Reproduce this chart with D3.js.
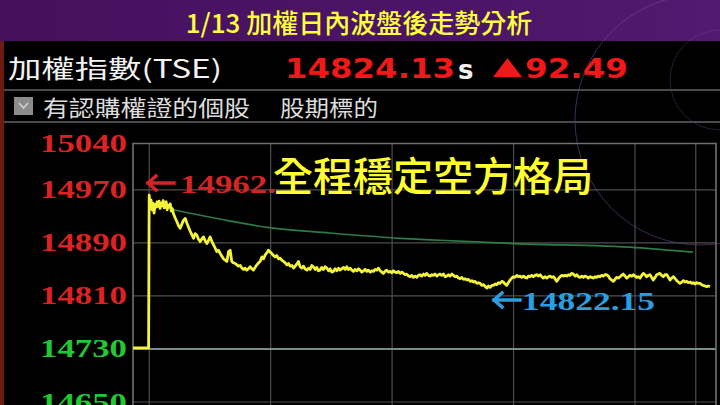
<!DOCTYPE html>
<html><head><meta charset="utf-8">
<script src="https://cdn.jsdelivr.net/npm/d3@7/dist/d3.min.js"></script>
<style>html,body{margin:0;padding:0;background:#000;overflow:hidden}svg{display:block}</style>
</head><body>
<script>
// ---------- data ----------
const title = "1/13 加權日內波盤後走勢分析";
const indexName = "加權指數(TSE)";
const lastPrice = "14824.13";
const changeText = "92.49";
const headline = "全程穩定空方格局";
const highValueText = "14962.";
const lowValueText = "14822.15";
const yTicks = [15040, 14970, 14890, 14810, 14730, 14650];
const prevClose = 14731.64;
const gridMinutes = [0, 60, 120, 180, 240, 270];
// [minutes after 9:00, index value]
const yellowPoints = [[-8,14731.6],[-0.3,14731.6],[0,14962],[0.4,14948],[0.9,14955],[1.4,14940],[1.9,14950],[2.4,14935],[2.9,14948],[3.4,14944],[3.9,14952],[4.4,14945],[4.9,14953],[5.4,14942],[5.9,14950],[6.4,14946],[6.9,14954],[7.4,14943],[7.9,14949],[8.4,14952],[8.9,14940],[9.4,14947],[9.9,14944],[10.4,14949],[10.9,14938],[11.4,14942],[12,14934],
[12.8,14928],[13.7,14922],[14.5,14916],[15.3,14912],[16.1,14918],[16.9,14924],[17.8,14927],[18.6,14920],[19.4,14914],[20.2,14908],[21.0,14903],[21.9,14897],[22.7,14904],[23.5,14902],[24.3,14896],[25.2,14892],[26.0,14896],[26.8,14899],[27.7,14893],[28.5,14889],[29.3,14894],[30.1,14899],[31.0,14892],[31.8,14887],[32.6,14882],[33.4,14877],[34.2,14879],[35.1,14874],[35.9,14870],[36.7,14866],[37.6,14864],[38.4,14862],[39.2,14877],[40.0,14879],[40.8,14862],[41.6,14860],[42.5,14859],[43.3,14857],[44.1,14855],[45.0,14856],[45.8,14852],[46.6,14850],[47.4,14852],[48.2,14849],[49.0,14851],[49.9,14854],[50.7,14851],[51.5,14849],[52.3,14853],[53.2,14857],[54.0,14860],[54.8,14862],[55.7,14869],[56.5,14866],[57.3,14872],[58.1,14875],[58.9,14879],[59.8,14876],[60.6,14874],[61.4,14871],[62.2,14869],[63.0,14871],[63.9,14866],[64.7,14867],[65.5,14864],[66.3,14862],[67.2,14860],[68.0,14857],[68.8,14859],[69.6,14855],[70.5,14856],[71.3,14852],[72.1,14855],[72.9,14858],[73.7,14862],[74.6,14854],[75.4,14852],[76.2,14855],[77.0,14851],[77.9,14849],[78.7,14852],[79.5,14850],[80.3,14856],[81.1,14854],[82.0,14850],[82.8,14853],[83.6,14848],[84.4,14849],[85.2,14853],[86.1,14850],[86.9,14854],[87.8,14852],[88.6,14848],[89.4,14851],[90.2,14846],[91.0,14847],[91.8,14851],[92.7,14848],[93.5,14852],[94.3,14849],[95.1,14851],[96.0,14853],[96.8,14850],[97.6,14854],[98.4,14850],[99.3,14852],[100.1,14849],[100.9,14847],[101.7,14850],[102.6,14848],[103.4,14851],[104.2,14849],[105.0,14846],[105.9,14848],[106.7,14850],[107.5,14847],[108.3,14849],[109.2,14846],[110.0,14848],[110.8,14847],[111.6,14850],[112.4,14849],[113.2,14852],[114.1,14848],[114.9,14846],[115.7,14844],[116.5,14847],[117.3,14849],[118.2,14846],[119.0,14847],[119.8,14845],[120.6,14848],[121.5,14846],[122.3,14845],[123.1,14847],[124.0,14844],[124.8,14846],[125.6,14844],[126.4,14842],[127.2,14843],[128.1,14840],[128.9,14839],[129.7,14841],[130.5,14838],[131.4,14840],[132.2,14838],[133.0,14841],[133.8,14842],[134.6,14840],[135.5,14843],[136.3,14841],[137.1,14844],[137.9,14841],[138.8,14840],[139.6,14842],[140.4,14841],[141.2,14843],[142.1,14840],[142.9,14842],[143.7,14843],[144.5,14841],[145.4,14843],[146.2,14839],[147.0,14840],[147.8,14842],[148.6,14840],[149.5,14843],[150.3,14841],[151.1,14839],[152.0,14840],[152.8,14837],[153.6,14836],[154.4,14838],[155.3,14835],[156.1,14836],[156.9,14834],[157.7,14835],[158.6,14832],[159.4,14833],[160.2,14831],[161.0,14832],[161.9,14829],[162.7,14830],[163.5,14829],[164.3,14826],[165.2,14827],[166.0,14824],[166.8,14822],[167.6,14825],[168.4,14823],[169.3,14826],[170.0,14826],[170.9,14828],[171.7,14827],[172.5,14830],[173.3,14829],[174.2,14832],[175.0,14831],[175.8,14828],[176.6,14826],[177.4,14830],[178.3,14834],[179.1,14837],[179.9,14839],[180.7,14838],[181.6,14841],[182.4,14839],[183.2,14840],[184.0,14838],[184.9,14840],[185.7,14838],[186.5,14837],[187.3,14840],[188.1,14839],[189.0,14841],[189.8,14839],[190.6,14841],[191.4,14842],[192.3,14840],[193.1,14842],[193.9,14839],[194.7,14837],[195.6,14839],[196.4,14837],[197.2,14839],[198.0,14840],[198.9,14838],[199.7,14839],[200.5,14836],[201.3,14832],[202.2,14836],[203.0,14839],[203.8,14841],[204.6,14840],[205.5,14841],[206.3,14840],[207.1,14842],[207.9,14841],[208.7,14844],[209.5,14843],[210.4,14840],[211.2,14842],[212.0,14839],[212.8,14838],[213.7,14840],[214.5,14838],[215.3,14840],[216.1,14839],[216.9,14837],[217.8,14839],[218.6,14838],[219.4,14837],[220.2,14839],[221.0,14838],[221.9,14840],[222.7,14839],[223.5,14841],[224.3,14840],[225.2,14842],[226.0,14842],[226.8,14840],[227.6,14836],[228.5,14834],[229.3,14832],[230.1,14835],[230.9,14838],[231.8,14837],[232.6,14839],[233.4,14841],[234.2,14843],[235.1,14840],[235.9,14837],[236.7,14839],[237.5,14841],[238.4,14840],[239.2,14842],[240.0,14840],[240.8,14838],[241.6,14839],[242.5,14837],[243.3,14841],[244.1,14844],[244.9,14842],[245.8,14839],[246.6,14841],[247.4,14842],[248.2,14838],[249.0,14834],[249.9,14838],[250.7,14842],[251.5,14843],[252.3,14844],[253.1,14841],[254.0,14839],[254.8,14842],[255.7,14842],[256.5,14838],[257.3,14834],[258.1,14837],[259.0,14839],[259.8,14836],[260.6,14833],[261.4,14831],[262.2,14829],[263.1,14831],[263.9,14833],[264.7,14831],[265.5,14832],[266.3,14830],[267.2,14831],[268.0,14829],[268.8,14830],[269.6,14828],[270.5,14830],[271.3,14829],[272.1,14829],[272.9,14827],[273.7,14826],[274.6,14825],[275.4,14824],[276.2,14825],[277.0,14824]];
const greenTime = [12, 40, 59.4, 89, 124, 143.7, 180.7, 240.5, 268.6];
const greenValue = [14940, 14923, 14913, 14905, 14897, 14894, 14889, 14883, 14876];

// ---------- layout ----------
const W = 720, H = 405;
const svg = d3.select("body").append("svg").attr("width", W).attr("height", H);
const defs = svg.append("defs");
const grad = defs.append("linearGradient").attr("id","hdr").attr("x1","0").attr("x2","1");
grad.append("stop").attr("offset","0").attr("stop-color","#47105e");
grad.append("stop").attr("offset","0.6").attr("stop-color","#4c1466");
grad.append("stop").attr("offset","1").attr("stop-color","#521a70");

svg.append("rect").attr("width",W).attr("height",H).attr("fill","#000");
svg.append("rect").attr("width",W).attr("height",41).attr("fill","url(#hdr)");
const deco = svg.append("g").attr("fill","none").attr("stroke","#7a4a9a").attr("stroke-opacity",0.55);
deco.append("circle").attr("cx",700).attr("cy",120).attr("r",125);
deco.append("circle").attr("cx",720).attr("cy",80).attr("r",50).attr("stroke-opacity",0.35);
svg.append("text").attr("x",359).attr("y",21).attr("text-anchor","middle").attr("dominant-baseline","central")
  .attr("font-family","'Noto Sans CJK TC','Noto Sans CJK SC',sans-serif").attr("font-size",26).attr("font-weight",500)
  .attr("fill","#ffff3c").text(title);

svg.append("rect").attr("x",0).attr("y",41).attr("width",4).attr("height",H-41).attr("fill","#6e1a12");

// info row
svg.append("text").attr("x",8).attr("y",67).attr("dominant-baseline","central")
  .attr("font-family","'Noto Sans CJK TC',sans-serif").attr("font-size",25).attr("fill","#f2f2f2")
  .attr("textLength",214).attr("lengthAdjust","spacingAndGlyphs").text(indexName);
svg.append("text").attr("x",285).attr("y",68).attr("dominant-baseline","central")
  .attr("font-family","'DejaVu Sans',sans-serif").attr("font-weight","bold").attr("font-size",27).attr("fill","#f01818")
  .attr("textLength",170).attr("lengthAdjust","spacingAndGlyphs").text(lastPrice);
svg.append("text").attr("x",458).attr("y",70).attr("dominant-baseline","central")
  .attr("font-family","'DejaVu Sans',sans-serif").attr("font-weight","bold").attr("font-size",26).attr("fill","#f0f0f0").text("s");
svg.append("path").attr("d","M493,77 L507.5,58 L522,77 Z").attr("fill","#f01818");
svg.append("text").attr("x",525).attr("y",68).attr("dominant-baseline","central")
  .attr("font-family","'DejaVu Sans',sans-serif").attr("font-weight","bold").attr("font-size",27).attr("fill","#f01818")
  .attr("textLength",103).attr("lengthAdjust","spacingAndGlyphs").text(changeText);

// second row
svg.append("line").attr("x1",4).attr("x2",W).attr("y1",90).attr("y2",90).attr("stroke","#4a4a4a").attr("stroke-width",2);
svg.append("line").attr("x1",4).attr("x2",W).attr("y1",122).attr("y2",122).attr("stroke","#4a4a4a").attr("stroke-width",2);
svg.append("rect").attr("x",14).attr("y",97).attr("width",19).attr("height",18).attr("fill","#8c8c8c");
svg.append("path").attr("d","M19,103 L23.5,108 L28,103").attr("fill","none").attr("stroke","#d0d0d0").attr("stroke-width",1.6);
svg.append("text").attr("x",43).attr("y",106).attr("dominant-baseline","central")
  .attr("font-family","'Noto Sans CJK TC',sans-serif").attr("font-size",22).attr("fill","#dcdcdc")
  .attr("textLength",207).attr("lengthAdjust","spacingAndGlyphs").text("有認購權證的個股");
svg.append("text").attr("x",280).attr("y",106).attr("dominant-baseline","central")
  .attr("font-family","'Noto Sans CJK TC',sans-serif").attr("font-size",22).attr("fill","#dcdcdc")
  .attr("textLength",98).attr("lengthAdjust","spacingAndGlyphs").text("股期標的");

// ---------- chart ----------
const x = d3.scaleLinear().domain([-8, 280]).range([133, 716]);
const y = d3.scaleLinear().domain([14650, 15040]).range([402, 143.5]);

const grid = svg.append("g");
yTicks.forEach(v => {
  if (v === 14730 || v === 15040) return;
  grid.append("line").attr("x1",x(-8)).attr("x2",x(280)).attr("y1",y(v)).attr("y2",y(v))
    .attr("stroke","#4e4e4e").attr("stroke-width",1.2);
});
gridMinutes.forEach(m => {
  grid.append("line").attr("x1",x(m)).attr("x2",x(m)).attr("y1",y(15040)).attr("y2",H)
    .attr("stroke","#4e4e4e").attr("stroke-width",1.2);
});
grid.append("line").attr("x1",x(-8)).attr("x2",x(280)).attr("y1",y(14730)).attr("y2",y(14730))
  .attr("stroke","#7c8a8a").attr("stroke-width",2);
grid.append("path").attr("d",`M${x(-8)},${H} V${y(15040)} H${x(280)} V${H}`)
  .attr("fill","none").attr("stroke","#707070").attr("stroke-width",1.6);

// y labels
const lab = svg.append("g");
yTicks.forEach(v => {
  lab.append("text").attr("x",127).attr("y",y(v)).attr("text-anchor","end").attr("dominant-baseline","central")
    .attr("font-family","'Liberation Serif','DejaVu Serif',serif").attr("font-weight","bold").attr("font-size",26)
    .attr("fill", v > prevClose ? "#dc2222" : "#22c832")
    .attr("textLength",87).attr("lengthAdjust","spacingAndGlyphs").text(v);
});

// green line
const gl = d3.line().x(d => x(d[0])).y(d => y(d[1])).curve(d3.curveMonotoneX);
svg.append("path").datum(greenTime.map((t,i)=>[t,greenValue[i]])).attr("d",gl)
  .attr("fill","none").attr("stroke","#2e7a48").attr("stroke-width",1.7);

// yellow line
const yl = d3.line().x(d => x(d[0])).y(d => y(d[1]));
svg.append("path").datum(yellowPoints).attr("d",yl)
  .attr("fill","none").attr("stroke","#f4f43a").attr("stroke-width",2.8).attr("stroke-linejoin","round");

// annotations with drawn arrows
function arrow(x0, yc, color) {
  svg.append("path").attr("d",`M${x0+28},${yc} H${x0+2} M${x0+10},${yc-7} L${x0+2},${yc} L${x0+10},${yc+7}`)
    .attr("fill","none").attr("stroke",color).attr("stroke-width",3.4).attr("stroke-linecap","square");
}
arrow(146, 183, "#d42424");
svg.append("text").attr("x",180).attr("y",184).attr("dominant-baseline","central")
  .attr("font-family","'Liberation Serif','DejaVu Serif',serif").attr("font-weight","bold").attr("font-size",25)
  .attr("fill","#d42424").attr("textLength",96).attr("lengthAdjust","spacingAndGlyphs").text(highValueText);
arrow(492, 300, "#2a9ee0");
svg.append("text").attr("x",522).attr("y",301).attr("dominant-baseline","central")
  .attr("font-family","'Liberation Serif','DejaVu Serif',serif").attr("font-weight","bold").attr("font-size",25)
  .attr("fill","#2a9ee0").attr("textLength",133).attr("lengthAdjust","spacingAndGlyphs").text(lowValueText);
svg.append("text").attr("x",273).attr("y",174).attr("dominant-baseline","central")
  .attr("font-family","'Noto Sans CJK TC',sans-serif").attr("font-size",40).attr("font-weight",500)
  .attr("fill","#ffff2e").attr("textLength",320).attr("lengthAdjust","spacingAndGlyphs").text(headline);
</script>
</body></html>
